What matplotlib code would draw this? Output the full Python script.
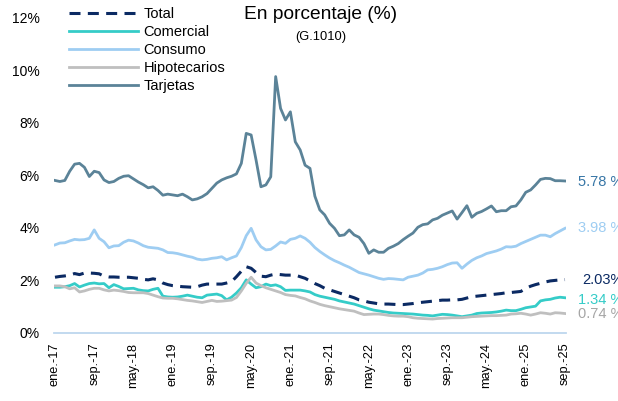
import matplotlib
matplotlib.use("Agg")
import matplotlib.pyplot as plt
import numpy as np

plt.rcParams['font.family'] = ['Liberation Sans', 'DejaVu Sans']

# morosidad mensual ene-17 .. sep-25, en porcentaje
total = [2.12, 2.15, 2.17, 2.20, 2.26, 2.22, 2.28, 2.28, 2.27, 2.25, 2.16, 2.13,
         2.13, 2.12, 2.12, 2.12, 2.10, 2.08, 2.04, 2.02, 2.06, 2.02, 1.90, 1.84,
         1.80, 1.78, 1.76, 1.75, 1.74, 1.76, 1.82, 1.86, 1.86, 1.86, 1.86, 1.90,
         1.95, 2.14, 2.35, 2.52, 2.46, 2.30, 2.16, 2.14, 2.20, 2.24, 2.22, 2.20,
         2.20, 2.20, 2.14, 2.08, 1.98, 1.88, 1.80, 1.70, 1.64, 1.58, 1.52, 1.46,
         1.40, 1.34, 1.26, 1.22, 1.17, 1.14, 1.11, 1.10, 1.10, 1.09, 1.08, 1.08,
         1.10, 1.12, 1.15, 1.17, 1.19, 1.21, 1.23, 1.25, 1.25, 1.26, 1.26, 1.28,
         1.33, 1.38, 1.40, 1.42, 1.44, 1.46, 1.48, 1.50, 1.53, 1.54, 1.56, 1.58,
         1.70, 1.78, 1.84, 1.89, 1.94, 1.98, 2.00, 2.02, 2.03]

comercial = [1.74, 1.74, 1.76, 1.80, 1.88, 1.75, 1.82, 1.88, 1.90, 1.87, 1.88, 1.72,
             1.84, 1.77, 1.68, 1.69, 1.70, 1.64, 1.61, 1.60, 1.66, 1.70, 1.40, 1.37,
             1.36, 1.37, 1.40, 1.44, 1.40, 1.36, 1.34, 1.44, 1.46, 1.48, 1.42, 1.26,
             1.36, 1.52, 1.72, 2.02, 1.86, 1.72, 1.76, 1.86, 1.80, 1.83, 1.76, 1.62,
             1.63, 1.63, 1.63, 1.60, 1.56, 1.46, 1.40, 1.36, 1.32, 1.28, 1.22, 1.18,
             1.14, 1.10, 1.04, 0.98, 0.92, 0.87, 0.84, 0.81, 0.78, 0.76, 0.75, 0.74,
             0.73, 0.72, 0.70, 0.68, 0.67, 0.65, 0.68, 0.71, 0.70, 0.68, 0.65, 0.62,
             0.65, 0.68, 0.74, 0.76, 0.77, 0.78, 0.80, 0.83, 0.87, 0.85, 0.85, 0.90,
             0.96, 0.99, 1.02, 1.22, 1.26, 1.28, 1.33, 1.36, 1.34]

consumo = [3.35, 3.42, 3.43, 3.50, 3.56, 3.54, 3.55, 3.60, 3.92, 3.60, 3.47, 3.24,
           3.31, 3.32, 3.45, 3.53, 3.50, 3.42, 3.32, 3.26, 3.24, 3.22, 3.16, 3.06,
           3.05, 3.02, 2.97, 2.92, 2.88, 2.81, 2.78, 2.80, 2.84, 2.86, 2.90, 2.78,
           2.86, 2.93, 3.25, 3.70, 3.98, 3.54, 3.28, 3.16, 3.18, 3.31, 3.46, 3.41,
           3.56, 3.60, 3.69, 3.60, 3.45, 3.25, 3.10, 2.97, 2.85, 2.75, 2.67, 2.58,
           2.50, 2.40, 2.30, 2.25, 2.20, 2.14, 2.08, 2.04, 2.07, 2.06, 2.04, 2.02,
           2.12, 2.16, 2.20, 2.28, 2.40, 2.42, 2.46, 2.52, 2.60, 2.66, 2.67, 2.46,
           2.62, 2.76, 2.86, 2.93, 3.02, 3.07, 3.12, 3.19, 3.28, 3.27, 3.30, 3.40,
           3.48, 3.56, 3.64, 3.72, 3.72, 3.66, 3.78, 3.88, 3.98]

hipotecarios = [1.79, 1.79, 1.76, 1.68, 1.72, 1.56, 1.60, 1.66, 1.70, 1.70, 1.64, 1.60,
                1.63, 1.61, 1.58, 1.54, 1.53, 1.53, 1.53, 1.50, 1.44, 1.38, 1.33, 1.32,
                1.32, 1.30, 1.27, 1.24, 1.22, 1.19, 1.16, 1.20, 1.24, 1.20, 1.21, 1.23,
                1.25, 1.35, 1.60, 1.89, 2.12, 1.90, 1.80, 1.72, 1.66, 1.60, 1.54, 1.46,
                1.43, 1.41, 1.35, 1.30, 1.22, 1.16, 1.09, 1.04, 1.00, 0.96, 0.92, 0.89,
                0.86, 0.83, 0.76, 0.70, 0.71, 0.72, 0.72, 0.70, 0.67, 0.65, 0.64, 0.64,
                0.62, 0.58, 0.56, 0.55, 0.54, 0.53, 0.55, 0.56, 0.57, 0.58, 0.58, 0.58,
                0.60, 0.62, 0.63, 0.64, 0.65, 0.66, 0.66, 0.67, 0.68, 0.72, 0.73, 0.75,
                0.72, 0.68, 0.72, 0.77, 0.75, 0.72, 0.77, 0.76, 0.74]

tarjetas = [5.80, 5.76, 5.80, 6.15, 6.42, 6.45, 6.30, 5.95, 6.15, 6.10, 5.82, 5.72,
            5.76, 5.88, 5.96, 5.98, 5.86, 5.74, 5.64, 5.52, 5.56, 5.42, 5.24, 5.28,
            5.25, 5.22, 5.28, 5.18, 5.06, 5.10, 5.18, 5.30, 5.50, 5.70, 5.82, 5.90,
            5.96, 6.05, 6.45, 7.59, 7.53, 6.58, 5.56, 5.63, 5.94, 9.75, 8.54, 8.10,
            8.41, 7.27, 6.96, 6.38, 6.26, 5.20, 4.68, 4.49, 4.17, 3.98, 3.70, 3.73,
            3.92, 3.73, 3.64, 3.40, 3.03, 3.16, 3.07, 3.07, 3.22, 3.30, 3.40, 3.55,
            3.68, 3.80, 4.02, 4.12, 4.15, 4.30, 4.36, 4.48, 4.56, 4.64, 4.33, 4.58,
            4.84, 4.40, 4.55, 4.62, 4.72, 4.83, 4.61, 4.65, 4.65, 4.80, 4.83, 5.06,
            5.35, 5.44, 5.63, 5.84, 5.88, 5.87, 5.79, 5.79, 5.78]

tick_labels = ['ene.-17', 'sep.-17', 'may.-18', 'ene.-19', 'sep.-19', 'may.-20',
               'ene.-21', 'sep.-21', 'may.-22', 'ene.-23', 'sep.-23', 'may.-24',
               'ene.-25', 'sep.-25']

names = ['Total', 'Comercial', 'Consumo', 'Hipotecarios', 'Tarjetas']
colors = ['#0B2A63', '#35CCC8', '#9ECDF2', '#BFBFBF', '#5B8398']
label_colors = ['#0B2A63', '#35CCC8', '#9ECDF2', '#A6A6A6', '#3776A6']
end_labels = ['2.03%', '1.34 %', '3.98 %', '0.74 %', '5.78 %']
label_dx = [12.5, 9.5, 9.5, 9.5, 9.5]
label_dy = [0, -1.5, 0, 0, -1]   # small nudges in points

series = [total, comercial, consumo, hipotecarios, tarjetas]
x = np.arange(len(total))

fig = plt.figure(figsize=(6.18, 4.01), dpi=100)
ax = fig.add_axes([0.0866, 0.1696, 0.830, 0.787])

for i, (name, ys) in enumerate(zip(names, series)):
    if name == 'Total':
        ax.plot(x, ys, color=colors[i], lw=2.2, dashes=(3.6, 2.4), label=name,
                solid_capstyle='butt')
    else:
        ax.plot(x, ys, color=colors[i], lw=2.0, label=name)
    ax.annotate(end_labels[i], xy=(x[-1], ys[-1]), xytext=(label_dx[i], label_dy[i]),
                textcoords='offset points', va='center', ha='left',
                fontsize=10.5, color=label_colors[i], annotation_clip=False)

ax.set_xlim(-0.3, len(x) - 1 + 0.3)
ax.set_ylim(0, 12)
ax.set_yticks(np.arange(0, 13, 2))
ax.set_yticklabels([f'{v}%' for v in range(0, 13, 2)])
ax.set_xticks(np.arange(0, len(x), 8))
ax.set_xticklabels(tick_labels, rotation=90)
ax.tick_params(axis='both', length=0)
ax.tick_params(axis='y', pad=10, labelsize=10)
ax.tick_params(axis='x', pad=7, labelsize=9.2)

for s in ['top', 'right', 'left']:
    ax.spines[s].set_visible(False)
ax.spines['bottom'].set_color('#BDD7EE')
ax.spines['bottom'].set_linewidth(1.3)

fig.text(0.518, 0.964, 'En porcentaje (%)', ha='center', va='center', fontsize=13.8)
fig.text(0.519, 0.907, '(G.1010)', ha='center', va='center', fontsize=9.3)

fig.legend(loc='upper left', bbox_to_anchor=(0.095, 1.007), frameon=False,
           fontsize=10.5, handlelength=4.75, handletextpad=0.35,
           labelspacing=0.27, borderpad=0.2)

fig.savefig('out.png', dpi=100)
